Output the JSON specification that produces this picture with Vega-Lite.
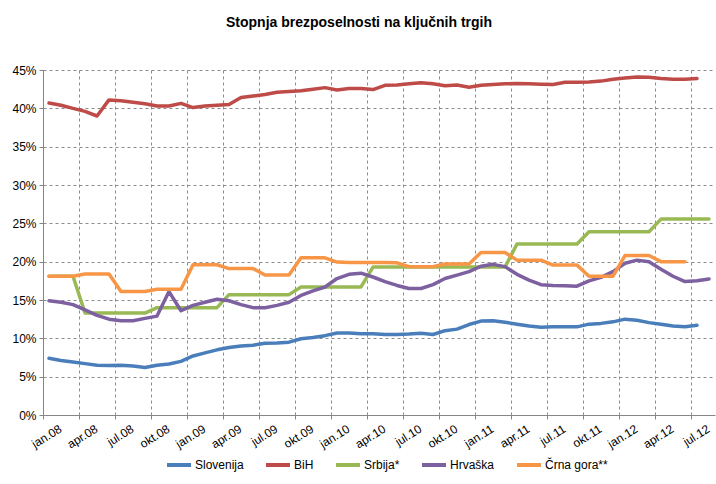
{
  "$schema": "https://vega.github.io/schema/vega-lite/v6.json",
  "width": 672,
  "height": 345,
  "autosize": {"type": "none"},
  "padding": {"left": 43, "top": 70, "right": 1, "bottom": 69},
  "background": "white",
  "config": {
    "font": "Liberation Sans",
    "view": {"stroke": null},
    "axis": {"labelFont": "Liberation Sans", "labelFontSize": 11, "labelColor": "#000000", "domainColor": "#868686", "tickColor": "#868686", "gridColor": "#8c8c8c", "gridDash": [3, 3], "gridWidth": 1, "tickSize": 4}
  },
  "title": {"text": "Stopnja brezposelnosti na ključnih trgih", "font": "Liberation Sans", "fontSize": 14, "fontWeight": "bold", "color": "#000000", "anchor": "middle", "dx": -20, "offset": 34},
  "data": {"values": [
    {"m": "jan.08", "Slovenija": 7.4, "BiH": 40.7, "Srbija*": 18.1, "Hrvaška": 14.9, "Črna gora**": 18.1},
    {"m": "feb.08", "Slovenija": 7.1, "BiH": 40.4, "Srbija*": 18.1, "Hrvaška": 14.7, "Črna gora**": 18.1},
    {"m": "mar.08", "Slovenija": 6.9, "BiH": 40.0, "Srbija*": 18.1, "Hrvaška": 14.4, "Črna gora**": 18.1},
    {"m": "apr.08", "Slovenija": 6.7, "BiH": 39.6, "Srbija*": 13.3, "Hrvaška": 13.7, "Črna gora**": 18.4},
    {"m": "maj.08", "Slovenija": 6.5, "BiH": 39.0, "Srbija*": 13.3, "Hrvaška": 13.0, "Črna gora**": 18.4},
    {"m": "jun.08", "Slovenija": 6.45, "BiH": 41.1, "Srbija*": 13.3, "Hrvaška": 12.5, "Črna gora**": 18.4},
    {"m": "jul.08", "Slovenija": 6.5, "BiH": 41.0, "Srbija*": 13.3, "Hrvaška": 12.3, "Črna gora**": 16.1},
    {"m": "avg.08", "Slovenija": 6.4, "BiH": 40.8, "Srbija*": 13.3, "Hrvaška": 12.3, "Črna gora**": 16.1},
    {"m": "sep.08", "Slovenija": 6.2, "BiH": 40.6, "Srbija*": 13.3, "Hrvaška": 12.6, "Črna gora**": 16.1},
    {"m": "okt.08", "Slovenija": 6.5, "BiH": 40.3, "Srbija*": 14.0, "Hrvaška": 12.9, "Črna gora**": 16.4},
    {"m": "nov.08", "Slovenija": 6.65, "BiH": 40.3, "Srbija*": 14.0, "Hrvaška": 16.1, "Črna gora**": 16.4},
    {"m": "dec.08", "Slovenija": 7.0, "BiH": 40.65, "Srbija*": 14.0, "Hrvaška": 13.6, "Črna gora**": 16.4},
    {"m": "jan.09", "Slovenija": 7.7, "BiH": 40.1, "Srbija*": 14.0, "Hrvaška": 14.3, "Črna gora**": 19.6},
    {"m": "feb.09", "Slovenija": 8.1, "BiH": 40.3, "Srbija*": 14.0, "Hrvaška": 14.7, "Črna gora**": 19.6},
    {"m": "mar.09", "Slovenija": 8.5, "BiH": 40.4, "Srbija*": 14.0, "Hrvaška": 15.1, "Črna gora**": 19.6},
    {"m": "apr.09", "Slovenija": 8.8, "BiH": 40.5, "Srbija*": 15.7, "Hrvaška": 14.9, "Črna gora**": 19.1},
    {"m": "maj.09", "Slovenija": 9.0, "BiH": 41.4, "Srbija*": 15.7, "Hrvaška": 14.4, "Črna gora**": 19.1},
    {"m": "jun.09", "Slovenija": 9.1, "BiH": 41.6, "Srbija*": 15.7, "Hrvaška": 14.0, "Črna gora**": 19.1},
    {"m": "jul.09", "Slovenija": 9.35, "BiH": 41.8, "Srbija*": 15.7, "Hrvaška": 14.0, "Črna gora**": 18.25},
    {"m": "avg.09", "Slovenija": 9.4, "BiH": 42.1, "Srbija*": 15.7, "Hrvaška": 14.3, "Črna gora**": 18.25},
    {"m": "sep.09", "Slovenija": 9.5, "BiH": 42.2, "Srbija*": 15.7, "Hrvaška": 14.7, "Črna gora**": 18.25},
    {"m": "okt.09", "Slovenija": 9.95, "BiH": 42.3, "Srbija*": 16.7, "Hrvaška": 15.6, "Črna gora**": 20.5},
    {"m": "nov.09", "Slovenija": 10.1, "BiH": 42.5, "Srbija*": 16.7, "Hrvaška": 16.2, "Črna gora**": 20.5},
    {"m": "dec.09", "Slovenija": 10.35, "BiH": 42.7, "Srbija*": 16.7, "Hrvaška": 16.7, "Črna gora**": 20.5},
    {"m": "jan.10", "Slovenija": 10.7, "BiH": 42.4, "Srbija*": 16.7, "Hrvaška": 17.8, "Črna gora**": 19.95},
    {"m": "feb.10", "Slovenija": 10.7, "BiH": 42.6, "Srbija*": 16.7, "Hrvaška": 18.35, "Črna gora**": 19.9},
    {"m": "mar.10", "Slovenija": 10.6, "BiH": 42.6, "Srbija*": 16.7, "Hrvaška": 18.5, "Črna gora**": 19.9},
    {"m": "apr.10", "Slovenija": 10.6, "BiH": 42.45, "Srbija*": 19.3, "Hrvaška": 18.0, "Črna gora**": 19.9},
    {"m": "maj.10", "Slovenija": 10.5, "BiH": 43.0, "Srbija*": 19.3, "Hrvaška": 17.4, "Črna gora**": 19.9},
    {"m": "jun.10", "Slovenija": 10.5, "BiH": 43.05, "Srbija*": 19.3, "Hrvaška": 16.9, "Črna gora**": 19.85},
    {"m": "jul.10", "Slovenija": 10.55, "BiH": 43.2, "Srbija*": 19.3, "Hrvaška": 16.5, "Črna gora**": 19.35},
    {"m": "avg.10", "Slovenija": 10.65, "BiH": 43.35, "Srbija*": 19.3, "Hrvaška": 16.5, "Črna gora**": 19.35},
    {"m": "sep.10", "Slovenija": 10.5, "BiH": 43.2, "Srbija*": 19.3, "Hrvaška": 17.0, "Črna gora**": 19.35},
    {"m": "okt.10", "Slovenija": 11.0, "BiH": 42.95, "Srbija*": 19.3, "Hrvaška": 17.8, "Črna gora**": 19.7},
    {"m": "nov.10", "Slovenija": 11.2, "BiH": 43.05, "Srbija*": 19.3, "Hrvaška": 18.25, "Črna gora**": 19.7},
    {"m": "dec.10", "Slovenija": 11.8, "BiH": 42.75, "Srbija*": 19.3, "Hrvaška": 18.7, "Črna gora**": 19.7},
    {"m": "jan.11", "Slovenija": 12.25, "BiH": 43.0, "Srbija*": 19.3, "Hrvaška": 19.4, "Črna gora**": 21.2},
    {"m": "feb.11", "Slovenija": 12.3, "BiH": 43.1, "Srbija*": 19.3, "Hrvaška": 19.65, "Črna gora**": 21.2},
    {"m": "mar.11", "Slovenija": 12.1, "BiH": 43.2, "Srbija*": 19.3, "Hrvaška": 19.35, "Črna gora**": 21.2},
    {"m": "apr.11", "Slovenija": 11.85, "BiH": 43.25, "Srbija*": 22.3, "Hrvaška": 18.35, "Črna gora**": 20.2},
    {"m": "maj.11", "Slovenija": 11.6, "BiH": 43.2, "Srbija*": 22.3, "Hrvaška": 17.6, "Črna gora**": 20.2},
    {"m": "jun.11", "Slovenija": 11.45, "BiH": 43.15, "Srbija*": 22.3, "Hrvaška": 17.0, "Črna gora**": 20.2},
    {"m": "jul.11", "Slovenija": 11.5, "BiH": 43.1, "Srbija*": 22.3, "Hrvaška": 16.9, "Črna gora**": 19.55},
    {"m": "avg.11", "Slovenija": 11.5, "BiH": 43.4, "Srbija*": 22.3, "Hrvaška": 16.85, "Črna gora**": 19.55},
    {"m": "sep.11", "Slovenija": 11.5, "BiH": 43.4, "Srbija*": 22.3, "Hrvaška": 16.8, "Črna gora**": 19.55},
    {"m": "okt.11", "Slovenija": 11.85, "BiH": 43.45, "Srbija*": 23.9, "Hrvaška": 17.5, "Črna gora**": 18.1},
    {"m": "nov.11", "Slovenija": 11.95, "BiH": 43.55, "Srbija*": 23.9, "Hrvaška": 17.95, "Črna gora**": 18.1},
    {"m": "dec.11", "Slovenija": 12.15, "BiH": 43.8, "Srbija*": 23.9, "Hrvaška": 18.7, "Črna gora**": 18.1},
    {"m": "jan.12", "Slovenija": 12.5, "BiH": 43.95, "Srbija*": 23.9, "Hrvaška": 19.8, "Črna gora**": 20.8},
    {"m": "feb.12", "Slovenija": 12.35, "BiH": 44.1, "Srbija*": 23.9, "Hrvaška": 20.2, "Črna gora**": 20.8},
    {"m": "mar.12", "Slovenija": 12.05, "BiH": 44.05, "Srbija*": 23.9, "Hrvaška": 20.0, "Črna gora**": 20.8},
    {"m": "apr.12", "Slovenija": 11.85, "BiH": 43.9, "Srbija*": 25.55, "Hrvaška": 19.0, "Črna gora**": 20.0},
    {"m": "maj.12", "Slovenija": 11.6, "BiH": 43.8, "Srbija*": 25.55, "Hrvaška": 18.1, "Črna gora**": 20.0},
    {"m": "jun.12", "Slovenija": 11.5, "BiH": 43.8, "Srbija*": 25.55, "Hrvaška": 17.4, "Črna gora**": 20.0},
    {"m": "jul.12", "Slovenija": 11.7, "BiH": 43.9, "Srbija*": 25.55, "Hrvaška": 17.5},
    {"m": "avg.12", "Srbija*": 25.55, "Hrvaška": 17.75}
  ]},
  "transform": [
    {"fold": ["Slovenija", "BiH", "Srbija*", "Hrvaška", "Črna gora**"], "as": ["drzava", "stopnja"]},
    {"filter": "isValid(datum.stopnja)"}
  ],
  "mark": {"type": "line", "strokeWidth": 3.5, "strokeCap": "round", "strokeJoin": "round"},
  "encoding": {
    "x": {
      "field": "m", "type": "nominal",
      "scale": {"type": "band", "paddingInner": 0, "paddingOuter": 0,
        "domain": ["jan.08","feb.08","mar.08","apr.08","maj.08","jun.08","jul.08","avg.08","sep.08","okt.08","nov.08","dec.08","jan.09","feb.09","mar.09","apr.09","maj.09","jun.09","jul.09","avg.09","sep.09","okt.09","nov.09","dec.09","jan.10","feb.10","mar.10","apr.10","maj.10","jun.10","jul.10","avg.10","sep.10","okt.10","nov.10","dec.10","jan.11","feb.11","mar.11","apr.11","maj.11","jun.11","jul.11","avg.11","sep.11","okt.11","nov.11","dec.11","jan.12","feb.12","mar.12","apr.12","maj.12","jun.12","jul.12","avg.12"]},
      "axis": {
        "title": null,
        "values": ["jan.08","apr.08","jul.08","okt.08","jan.09","apr.09","jul.09","okt.09","jan.10","apr.10","jul.10","okt.10","jan.11","apr.11","jul.11","okt.11","jan.12","apr.12","jul.12"],
        "bandPosition": 0,
        "labelOffset": 9,
        "labelAngle": -32,
        "labelAlign": "right",
        "labelBaseline": "top",
        "labelPadding": 4,
        "labelFontSize": 12,
        "grid": true,
        "domainWidth": 1
      }
    },
    "y": {
      "field": "stopnja", "type": "quantitative",
      "scale": {"domain": [0, 45], "nice": false},
      "axis": {"title": null, "values": [0,5,10,15,20,25,30,35,40,45], "labelExpr": "datum.value + '%'", "grid": true, "labelPadding": 3, "labelFontSize": 12}
    },
    "color": {
      "field": "drzava", "type": "nominal",
      "scale": {"domain": ["Slovenija", "BiH", "Srbija*", "Hrvaška", "Črna gora**"], "range": ["#4a7ebb", "#be4b48", "#98b954", "#7d60a0", "#f79646"]},
      "legend": {"title": null, "orient": "none", "legendX": 122, "legendY": 381, "padding": 0, "direction": "horizontal", "symbolType": "stroke", "symbolSize": 576, "symbolStrokeWidth": 4, "labelFont": "Liberation Sans", "labelFontSize": 12, "labelColor": "#000000", "labelOffset": 2, "columnPadding": 14}
    },
    "order": {"field": "drzava"}
  }
}
